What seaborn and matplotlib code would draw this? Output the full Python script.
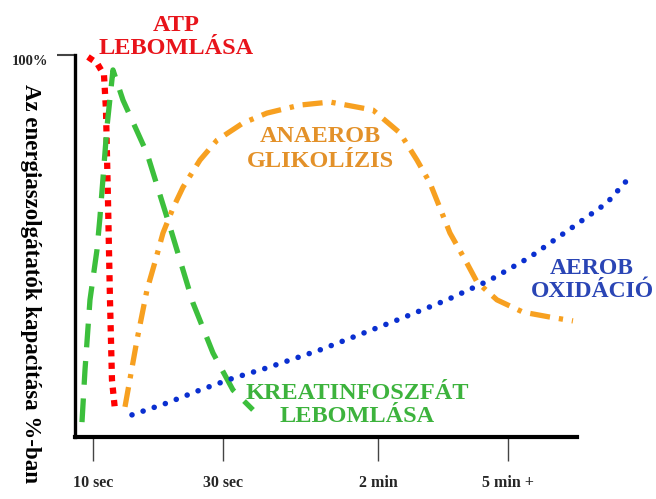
import numpy as np
import pandas as pd
import matplotlib
matplotlib.use('Agg')
import matplotlib.pyplot as plt
import seaborn as sns

sns.set_style('white')
plt.rcParams['font.family'] = ['Liberation Serif', 'DejaVu Serif']

# time position (arbitrary units along the axis) and capacity in %
atp_x = [2.6, 4.4, 5.8, 6.2, 6.6, 7.0, 7.4, 8.0]
atp_y = [99.5, 97.9, 94.8, 85.6, 62.0, 35.9, 14.9, 7.1]

kp_x = [1.4, 2.0, 3.0, 4.4, 5.0, 6.4, 7.6, 9.6, 14.4, 19.0, 23.6, 27.6, 31.6, 35.6]
kp_y = [3.9, 17.5, 35.9, 49.0, 57.6, 81.2, 96.1, 88.2, 74.3, 55.0, 35.1, 22.0, 12.3, 7.1]

glik_x = [10.0, 11.4, 12.4, 14.4, 16.0, 17.6, 19.6, 21.6, 25.0, 28.4, 33.6, 38.4, 45.0,
          51.0, 59.6, 65.0, 68.4, 71.0, 75.0, 78.4, 80.4, 84.4, 89.6, 95.0, 99.6]
glik_y = [7.9, 18.1, 25.4, 38.5, 45.8, 53.4, 59.9, 65.4, 72.5, 77.7, 82.2, 84.8, 86.9,
          87.7, 85.6, 79.6, 72.5, 66.5, 53.4, 45.5, 40.6, 35.9, 32.7, 31.4, 30.4]

aerob_x = [11.4, 18.4, 25.0, 31.6, 38.4, 49.0, 64.4, 74.4, 83.0, 91.0, 99.6, 106.4, 111.0]
aerob_y = [5.8, 8.9, 12.3, 15.4, 18.1, 22.8, 30.6, 35.9, 41.1, 47.1, 55.0, 61.3, 68.1]

tick_pos = [3.6, 29.6, 60.6, 86.6]
tick_labels = ['10 sec', '30 sec', '2 min', '5 min +']

fig = plt.figure(figsize=(6.56, 4.99), dpi=100)
ax = fig.add_axes([0.1143, 0.1242, 0.8765, 0.7655])

sns.lineplot(x=atp_x, y=atp_y, ax=ax, sort=False, color='#ff0000', lw=4.5,
             linestyle=(0, (1, 1)), dash_capstyle='butt', clip_on=False)
sns.lineplot(x=kp_x, y=kp_y, ax=ax, sort=False, color='#3cbf3c', lw=3.8,
             linestyle=(0, (4.5, 2.6)), clip_on=False)
sns.lineplot(x=glik_x, y=glik_y, ax=ax, sort=False, color='#f7a020', lw=3.8,
             linestyle=(0, (3.8, 1.7, 0.8, 1.7)), clip_on=False)
sns.lineplot(x=aerob_x, y=aerob_y, ax=ax, sort=False, color='#0a2fd0', lw=4,
             linestyle=(0, (0.01, 2.1)), dash_capstyle='round', clip_on=False)

ax.set_xlim(0, 115)
ax.set_ylim(0, 100)

for s in ['top', 'right']:
    ax.spines[s].set_visible(False)
ax.spines['left'].set_linewidth(2.4)
ax.spines['left'].set_color('black')
ax.spines['bottom'].set_linewidth(3)
ax.spines['bottom'].set_color('black')
ax.spines['bottom'].set_bounds(0, 100.4)

ax.set_xticks(tick_pos)
ax.set_xticklabels(tick_labels, fontsize=11.5, fontweight='bold')
ax.tick_params(axis='x', direction='out', length=17, width=1, color='#444444', pad=10, bottom=True)
ax.set_yticks([100])
ax.set_yticklabels(['100%'], fontsize=10.5, fontweight='bold', va='top')
ax.tick_params(axis='y', direction='out', length=13, width=1.5, color='#444444', pad=6, left=True)

ax.text(20.2, 104.7, 'ATP\nLEBOMLÁSA', color='#e8141b', fontsize=17.5, fontweight='bold',
        ha='center', va='center', linespacing=1.15, clip_on=False)
ax.text(49, 75.4, 'ANAEROB\nGLIKOLÍZIS', color='#e39129', fontsize=17.5, fontweight='bold',
        ha='center', va='center', linespacing=1.2)
ax.text(103.4, 41.1, 'AEROB\nOXIDÁCIÓ', color='#2a45b5', fontsize=17, fontweight='bold',
        ha='center', va='center', linespacing=1.15, clip_on=False)
ax.text(56.4, 8.4, 'KREATINFOSZFÁT\nLEBOMLÁSA', color='#3db33d', fontsize=17.5, fontweight='bold',
        ha='center', va='center', linespacing=1.15)

fig.text(30 / 656, 1 - 84 / 499, 'Az energiaszolgátatók kapacitása %-ban', rotation=270,
         ha='center', va='top', fontsize=16.5, fontweight='bold', color='black')

fig.savefig('out.png', dpi=100)
